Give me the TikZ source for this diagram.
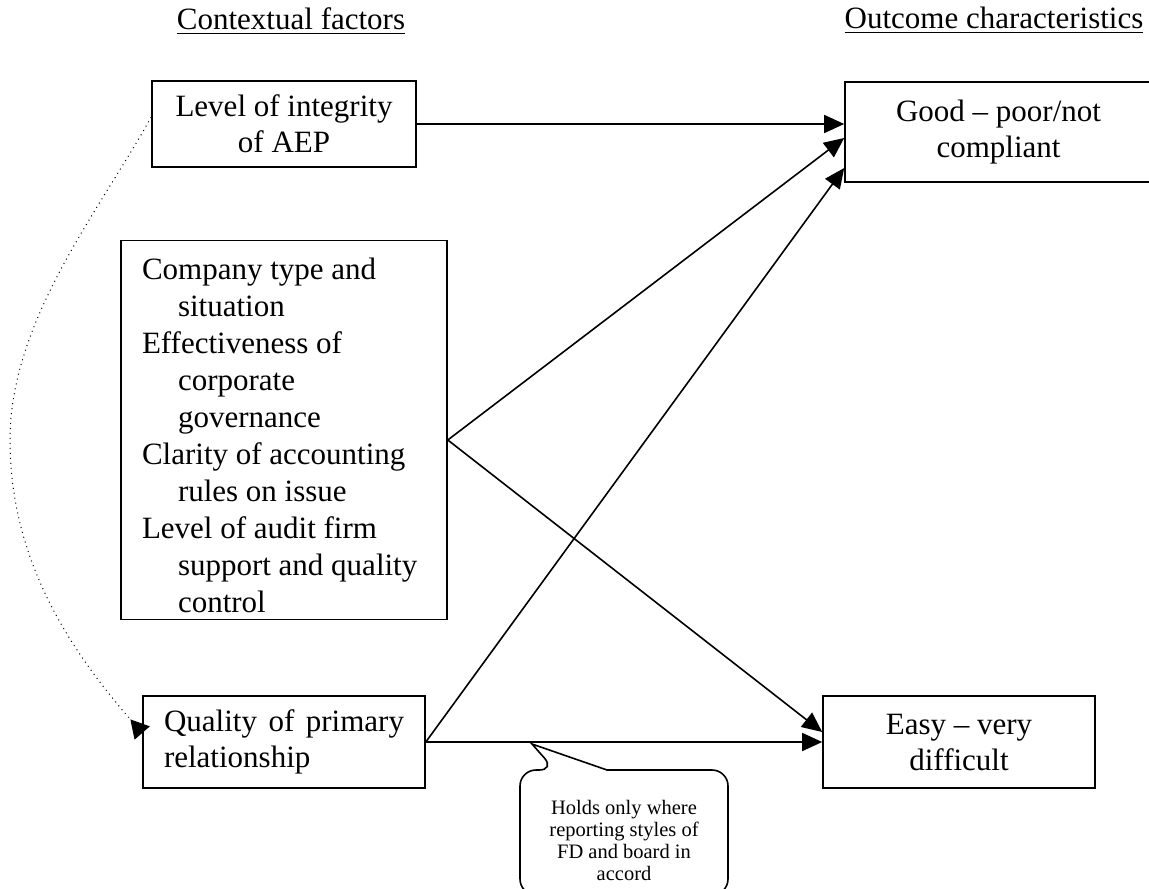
\documentclass[tikz,border=0pt]{standalone}
\usepackage{fontspec}
\setmainfont{Liberation Serif}
\usetikzlibrary{arrows.meta,positioning}
\newcommand{\ind}{\hspace*{18pt}}

\begin{document}
\begin{tikzpicture}[
    x=0.5pt, y=-0.5pt,
    box/.style={rectangle, draw, line width=0.8pt, inner sep=0pt, align=center, font=\fontsize{15.5pt}{18pt}\selectfont},
    heading/.style={anchor=base, font=\fontsize{15.5pt}{18pt}\selectfont},
    link/.style={-{Triangle[length=10pt,width=9pt]}, line width=0.8pt},
]
\useasboundingbox (0,0) rectangle (1149,888);

\node[heading] (ctxhead) at (291,30) {\underline{Contextual factors}};
\node[heading] (outhead) at (994,29) {\underline{Outcome characteristics}};

\node[box, minimum width=132pt, minimum height=43pt] (integrity) at (284,124) {Level of integrity\\of AEP};
\node[box, minimum width=163pt, minimum height=189.5pt, align=flush left, text width=142pt,
      font=\fontsize{15.5pt}{18.5pt}\selectfont] (factors) at (284,430)
    {\rule{0pt}{16.6pt}Company type and\\\ind situation\\Effectiveness of\\\ind corporate\\\ind governance\\
     Clarity of accounting\\\ind rules on issue\\Level of audit firm\\\ind support and quality\\\ind control};
\node[box, minimum width=141pt, minimum height=46pt, align=justify, text width=120pt] (relation) at (284,742)
    {Quality of primary relationship};

\node[box, minimum width=153.5pt, minimum height=50pt] (good) at (998.5,132) {Good -- poor/not\\compliant};
\node[box, minimum width=136pt, minimum height=46pt] (easy) at (959,742) {Easy -- very\\difficult};

% links to outcomes
\draw[link] (integrity.east) -- (integrity.east -| good.west);
\draw[link] ([yshift=-5pt]factors.east) -- ([yshift=-3pt]good.west);
\draw[link] ([yshift=-5pt]factors.east) -- ([yshift=5pt]easy.west);
\draw[link] (relation.east) -- ([yshift=-18pt]good.west);
\draw[link] (relation.east) -- (easy.west);

% dotted link between contextual factors
\draw[dotted, line width=0.5pt, -{Triangle[reversed,length=9pt,width=10pt]}]
    ([yshift=3.5pt]integrity.west) .. controls (100,210) and (10,320) .. (10,440)
    .. controls (10,560) and (70,650) .. ([yshift=4.5pt]relation.west);

% callout
\node[font=\fontsize{10.25pt}{11pt}\selectfont, align=center] (note) at (624,840)
    {Holds only where\\reporting styles of\\FD and board in\\accord};
\coordinate (notetip) at (532,744);
\draw[line width=0.8pt] (notetip) -- (607,770) [rounded corners=8pt] -- (728,770) -- (728,895)
    -- (520,895) -- (520,770) -- (555,770) [sharp corners] -- cycle;

\end{tikzpicture}
\end{document}
